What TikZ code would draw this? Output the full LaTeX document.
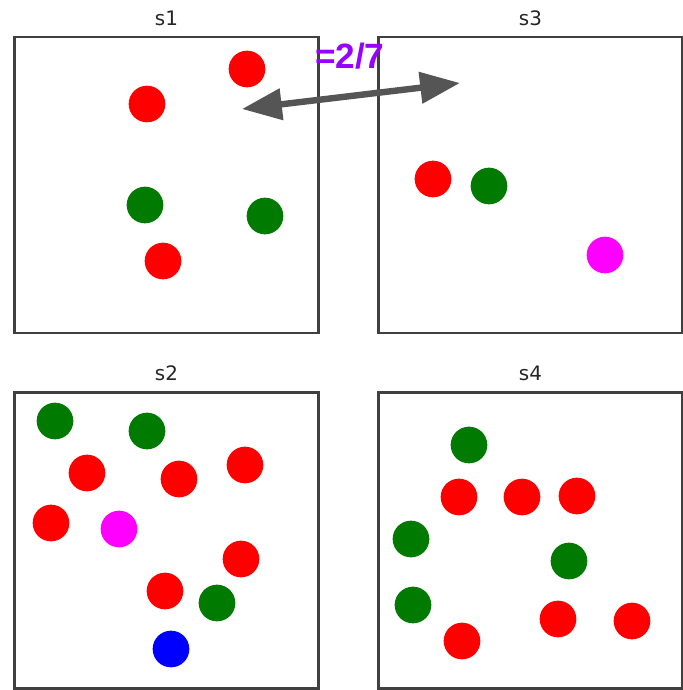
\documentclass[tikz,border=0pt]{standalone}
\usepackage{fontspec}
\usepackage{tikz}
\usetikzlibrary{arrows.meta,positioning}
\newfontfamily\titlefont{DejaVu Sans}
\newfontfamily\ratiofont{Liberation Sans}
\definecolor{frame}{HTML}{404040}
\definecolor{linkgray}{HTML}{555555}
\definecolor{ratiocol}{HTML}{9900FF}
\definecolor{ptred}{HTML}{FF0000}
\definecolor{ptgreen}{HTML}{007A00}
\definecolor{ptmagenta}{HTML}{FF00FF}
\definecolor{ptblue}{HTML}{0000FF}
\tikzset{
  panel/.style={draw=frame,line width=1.9pt,fill=white,minimum width=9.12cm,
    minimum height=8.88cm,inner sep=0pt},
  paneltitle/.style={font=\titlefont\fontsize{17}{19}\selectfont,text=black!85,inner sep=0pt},
  link/.style={{Triangle[length=34pt,width=26pt]}-{Triangle[length=34pt,width=26pt]},
    line width=5.5pt,draw=linkgray},
  ratio/.style={font=\ratiofont\bfseries\fontsize{30}{32}\selectfont,text=ratiocol,inner sep=0pt},
}

\begin{document}
\begin{tikzpicture}[x=0.03cm,y=-0.03cm]
  \useasboundingbox[fill=white] (0,0) rectangle (683,690);
  % panels
  \node[panel] (s1) at (166.5,185) {};
  \node[panel] (s3) at (530.5,185) {};
  \node[panel] (s2) at (166.5,540.5) {};
  \node[panel] (s4) at (530.5,540.5) {};
  \foreach \p in {s1,s2,s3,s4}{ \node[paneltitle,above=0.3cm of \p] (\p title) {\p}; }
  % points
  \foreach \x/\y/\c in {247/69/ptred,147/104/ptred,145/205/ptgreen,265/216/ptgreen,163/261/ptred,
      433/179/ptred,489/186/ptgreen,605/255/ptmagenta,
      55/421/ptgreen,147/431/ptgreen,87/473/ptred,179/479/ptred,245/465/ptred,51/523/ptred,
      119/529/ptmagenta,241/559/ptred,165/591/ptred,217/603/ptgreen,171/649/ptblue,
      469/445/ptgreen,459/497/ptred,522/497/ptred,577/496/ptred,411/539/ptgreen,569/561/ptgreen,
      413/605/ptgreen,558/619/ptred,632/621/ptred,462/641/ptred}{
    \fill[\c] (\x,\y) circle (0.55cm);
  }
  % similarity link
  \coordinate (p1) at (242,109);
  \coordinate (p3) at (460,83);
  \draw[link] (p1) -- node[ratio,above=0.72cm,xshift=-1pt] (sim) {=2/7} (p3);
\end{tikzpicture}
\end{document}
